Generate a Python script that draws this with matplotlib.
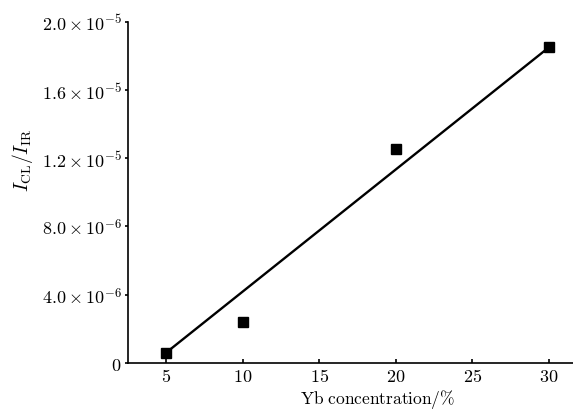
import matplotlib
matplotlib.use("Agg")
import matplotlib.pyplot as plt
from matplotlib.ticker import FixedLocator, FixedFormatter

plt.rcParams['mathtext.fontset'] = 'cm'
plt.rcParams['font.family'] = ['DejaVu Serif']

# Data
yb_conc = [5, 10, 20, 30]
ratio = [0.60e-6, 2.42e-6, 1.252e-5, 1.85e-5]
fit_x = [5, 30]
fit_y = [0.60e-6, 1.85e-5]

x_ticks = [5, 10, 15, 20, 25, 30]
x_ticklabels = [r'$5$', r'$10$', r'$15$', r'$20$', r'$25$', r'$30$']
y_ticks = [0, 4.0e-6, 8.0e-6, 1.2e-5, 1.6e-5, 2.0e-5]
y_ticklabels = [r'$0$', r'$4.0\times10^{-6}$', r'$8.0\times10^{-6}$',
                r'$1.2\times10^{-5}$', r'$1.6\times10^{-5}$', r'$2.0\times10^{-5}$']

fig = plt.figure(figsize=(5.73, 4.10), dpi=100)
ax = fig.add_axes([128/573, 1-364/410, 445/573, (364-22.7)/410])

ax.plot(fit_x, fit_y, color='black', lw=1.7, zorder=2)
ax.plot(yb_conc, ratio, linestyle='none', marker='s', ms=7, color='black', zorder=3)

ax.set_xlim(2.52, 31.57)
ax.set_ylim(0, 2.0e-5)
ax.xaxis.set_major_locator(FixedLocator(x_ticks))
ax.xaxis.set_major_formatter(FixedFormatter(x_ticklabels))
ax.yaxis.set_major_locator(FixedLocator(y_ticks))
ax.yaxis.set_major_formatter(FixedFormatter(y_ticklabels))

for s in ['top', 'right']:
    ax.spines[s].set_visible(False)
for s in ['left', 'bottom']:
    ax.spines[s].set_linewidth(1.2)

ax.tick_params(axis='y', direction='out', length=2.5, width=1.2, labelsize=13, pad=2)
ax.tick_params(axis='x', direction='in', length=3, width=1.2, labelsize=13, pad=3)

xl = ax.set_xlabel(r'$\mathrm{Yb\ concentration/\%}$', fontsize=12.5)
yl = ax.set_ylabel(r'$I_{\rm CL}/I_{\rm IR}$', fontsize=14)
xl.set_va('center')
yl.set_va('center')
ax.xaxis.set_label_coords(0.56, -0.105)
ax.yaxis.set_label_coords(-0.238, 0.598)

fig.savefig('out.png', dpi=100)
